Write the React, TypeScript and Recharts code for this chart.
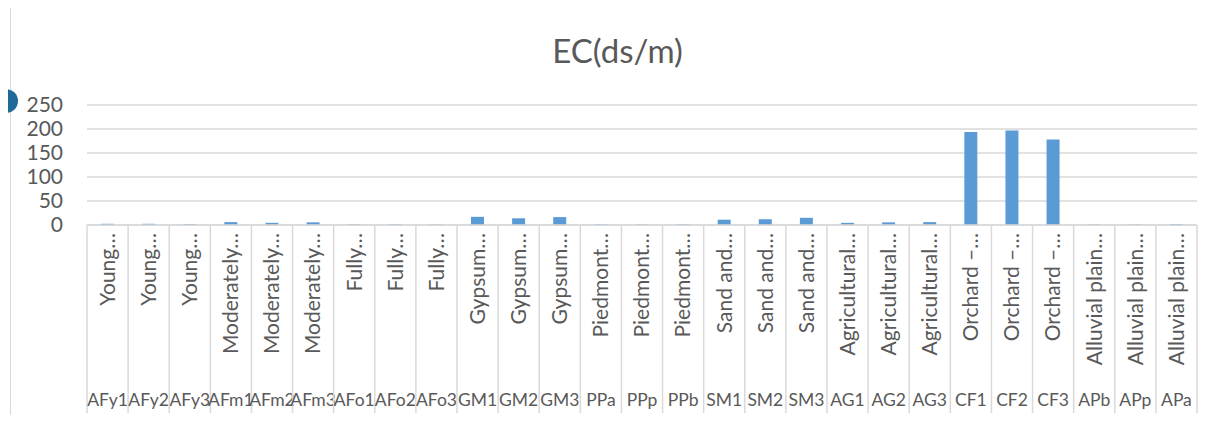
import React from 'react';
import { BarChart, Bar, XAxis, YAxis, CartesianGrid } from 'recharts';

// Sampling unit codes (bottom row of the category axis)
const codes = [
  'AFy1', 'AFy2', 'AFy3', 'AFm1', 'AFm2', 'AFm3', 'AFo1', 'AFo2', 'AFo3',
  'GM1', 'GM2', 'GM3', 'PPa', 'PPp', 'PPb', 'SM1', 'SM2', 'SM3',
  'AG1', 'AG2', 'AG3', 'CF1', 'CF2', 'CF3', 'APb', 'APp', 'APa',
];

// Landform / land-use names (rotated row, truncated like the source sheet)
const landforms = [
  'Young…', 'Young…', 'Young…',
  'Moderately…', 'Moderately…', 'Moderately…',
  'Fully…', 'Fully…', 'Fully…',
  'Gypsum…', 'Gypsum…', 'Gypsum…',
  'Piedmont…', 'Piedmont…', 'Piedmont…',
  'Sand and…', 'Sand and…', 'Sand and…',
  'Agricultural…', 'Agricultural…', 'Agricultural…',
  'Orchard –…', 'Orchard –…', 'Orchard –…',
  'Alluvial plain…', 'Alluvial plain…', 'Alluvial plain…',
];

// EC in ds/m
const ecValues = [
  2.5, 2.5, 2, 6, 4.5, 5.5, 1.5, 1.5, 1,
  17, 14, 16.5, 1.5, 1, 1.5, 11, 12, 15,
  4.5, 5.5, 6, 194, 197, 178, 1, 1, 2,
];

const yTicks = [0, 50, 100, 150, 200, 250];

const data = codes.map((code, i) => ({ code, name: landforms[i], ec: ecValues[i] }));

const W = 1219;
const H = 423;
const LEFT = 87;
const RIGHT = 22;
const TOP = 105;
const AXIS_H = 198;
const AXIS_Y = H - AXIS_H;
const BAND = (W - LEFT - RIGHT) / codes.length;
const FONT = 'Lato, "Open Sans", sans-serif';
const TEXT = '#595959';
const GRID = '#D9D9D9';

const CategoryTick = (props: any) => {
  const { x, index } = props;
  const row = data[index];
  const left = x - BAND / 2;
  const isLast = index === data.length - 1;
  return (
    <g>
      <line x1={left} x2={left} y1={AXIS_Y} y2={413} stroke={GRID} strokeWidth={1.5} />
      {isLast && (
        <line x1={left + BAND} x2={left + BAND} y1={AXIS_Y} y2={413} stroke={GRID} strokeWidth={1.5} />
      )}
      <text
        x={x}
        y={233}
        dy="0.35em"
        transform={`rotate(-90, ${x}, 233)`}
        textAnchor="end"
        fontFamily={FONT}
        fontSize={21}
        fill={TEXT}
      >
        {row.name}
      </text>
      <text x={x} y={406} textAnchor="middle" fontFamily={FONT} fontSize={17.5} fill={TEXT}>
        {row.code}
      </text>
    </g>
  );
};

export default function App() {
  return (
    <div style={{ position: 'relative', margin: -8, width: W, height: H, overflow: 'hidden', background: '#fff' }}>
      {/* chart frame */}
      <div style={{ position: 'absolute', left: 10, top: 7, right: -2, bottom: -2, borderLeft: `1.5px solid ${GRID}`, borderTop: `1.5px solid ${GRID}` }} />
      <div
        style={{
          position: 'absolute',
          top: 30,
          left: 0,
          width: 1235,
          textAlign: 'center',
          fontFamily: FONT,
          fontSize: 33,
          color: TEXT,
        }}
      >
        EC(ds/m)
      </div>
      <div style={{ position: 'absolute', left: 0, top: 0 }}>
        <BarChart width={W} height={H} data={data} margin={{ top: TOP, right: RIGHT, bottom: 0, left: 0 }} barSize={13}>
          <CartesianGrid vertical={false} stroke={GRID} strokeWidth={1.5} />
          <XAxis
            dataKey="code"
            interval={0}
            height={AXIS_H}
            axisLine={{ stroke: GRID, strokeWidth: 1.5 }}
            tickLine={false}
            tick={<CategoryTick />}
          />
          <YAxis
            width={LEFT}
            domain={[0, 250]}
            ticks={yTicks}
            interval={0}
            axisLine={false}
            tickLine={false}
            tickSize={0}
            tickMargin={24}
            tick={{ fontFamily: FONT, fontSize: 21, fill: TEXT }}
          />
          <Bar dataKey="ec" fill="#5B9BD5" isAnimationActive={false} />
        </BarChart>
      </div>
      {/* selection handle on the frame edge */}
      <div style={{ position: 'absolute', zIndex: 5, left: -6, top: 89, width: 24, height: 24, borderRadius: '50%', background: '#1F6A98' }} />
    </div>
  );
}
